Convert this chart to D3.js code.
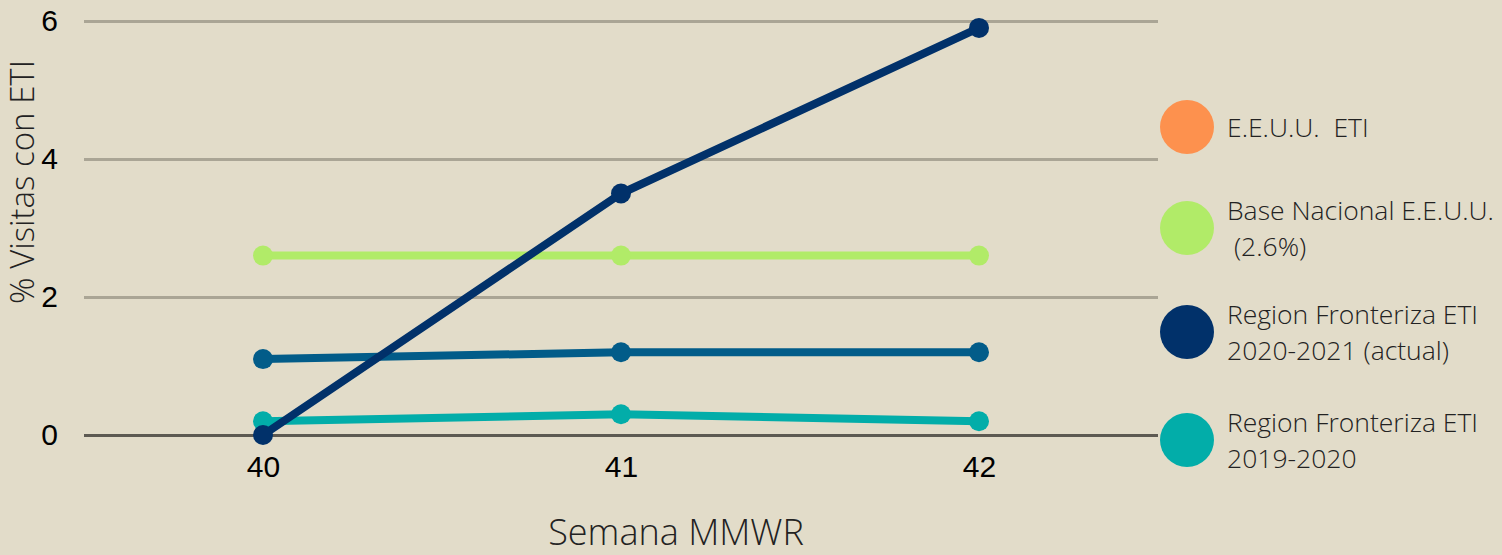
<!DOCTYPE html>
<html>
<head>
<meta charset="utf-8">
<script src="https://cdn.jsdelivr.net/npm/d3@7"></script>
<style>
  html, body { margin: 0; padding: 0; background: #e2dcc9; }
  svg { display: block; }
</style>
</head>
<body>
<svg id="chart" width="1502" height="555"></svg>
<script>
// ---- data ----
const weeks = ["40", "41", "42"];
const yTicks = [0, 2, 4, 6];
const seriesNames = [
  ["E.E.U.U.  ETI"],
  ["Base Nacional E.E.U.U.", " (2.6%)"],
  ["Region Fronteriza ETI", "2020-2021 (actual)"],
  ["Region Fronteriza ETI", "2019-2020"]
];
const usEti = [1.1, 1.2, 1.2];
const nationalBaseline = [2.6, 2.6, 2.6];
const border2020 = [0, 3.5, 5.9];
const border2019 = [0.2, 0.3, 0.2];
const seriesValues = [usEti, nationalBaseline, border2020, border2019];

// ---- styles ----
const lineColors = ["#025c89", "#b1eb68", "#01316a", "#02ada9"];
const legendColors = ["#fd914e", "#b1eb68", "#01316a", "#02ada9"];
const drawOrder = [0, 1, 3, 2];

const W = 1502, H = 555;
const margin = { left: 84, right: 344, top: 21, bottom: 120 };
const svg = d3.select("#chart");

svg.append("rect").attr("width", W).attr("height", H).attr("fill", "#e2dcc9");

const x = d3.scalePoint().domain(weeks).range([margin.left, W - margin.right]).padding(0.5);
const y = d3.scaleLinear().domain([0, 6]).range([H - margin.bottom, margin.top]);

// gridlines
const yAxis = d3.axisLeft(y).tickValues(yTicks).tickFormat(d3.format("d"))
  .tickSize(-(W - margin.right - margin.left)).tickPadding(26);
const gy = svg.append("g").attr("transform", `translate(${margin.left},0)`).call(yAxis);
gy.select(".domain").remove();
gy.selectAll(".tick line")
  .attr("stroke", d => d === 0 ? "#5d5a52" : "#aaa595")
  .attr("stroke-width", 3);
gy.selectAll(".tick text")
  .attr("fill", "#000")
  .style("font-family", "'Liberation Sans', Arial, sans-serif")
  .style("font-size", "30px");

// x axis labels
const xAxis = d3.axisBottom(x).tickSize(0).tickPadding(21);
const gx = svg.append("g").attr("transform", `translate(0,${y(0)})`).call(xAxis);
gx.select(".domain").remove();
gx.selectAll(".tick text")
  .attr("fill", "#000")
  .style("font-family", "'Liberation Sans', Arial, sans-serif")
  .style("font-size", "30px");

// lines
const line = d3.line().x((d, i) => x(weeks[i])).y(d => y(d));
drawOrder.forEach(si => {
  const g = svg.append("g");
  g.append("path")
    .datum(seriesValues[si])
    .attr("d", line)
    .attr("fill", "none")
    .attr("stroke", lineColors[si])
    .attr("stroke-width", 8)
    .attr("stroke-linejoin", "round");
  g.selectAll("circle")
    .data(seriesValues[si])
    .join("circle")
    .attr("cx", (d, i) => x(weeks[i]))
    .attr("cy", d => y(d))
    .attr("r", 10)
    .attr("fill", lineColors[si]);
});

// axis titles
svg.append("text")
  .attr("transform", `translate(34,182) rotate(-90)`)
  .attr("text-anchor", "middle")
  .attr("fill", "#222")
  .style("font-family", "'Open Sans', sans-serif")
  .style("font-weight", 300)
  .style("font-size", "33px")
  .text("% Visitas con ETI");

svg.append("text")
  .attr("x", 676)
  .attr("y", 545)
  .attr("text-anchor", "middle")
  .attr("fill", "#222")
  .style("font-family", "'Open Sans', sans-serif")
  .style("font-weight", 300)
  .style("font-size", "36px")
  .text("Semana MMWR");

// legend
const legendY = [127, 228, 332, 440];
const legend = svg.append("g");
seriesNames.forEach((lines, i) => {
  const g = legend.append("g").attr("transform", `translate(1187,${legendY[i]})`);
  g.append("circle").attr("r", 27).attr("fill", legendColors[i]);
  const t = g.append("text")
    .attr("fill", "#222")
    .attr("xml:space", "preserve")
    .style("font-family", "'Open Sans', sans-serif")
    .style("font-weight", 300)
    .style("font-size", "26.5px");
  const lh = 36.5;
  const y0 = lines.length === 1 ? 9.5 : -8.5;
  lines.forEach((s, k) => {
    t.append("tspan").attr("x", 40).attr("y", y0 + k * lh).text(s);
  });
});
</script>
</body>
</html>
